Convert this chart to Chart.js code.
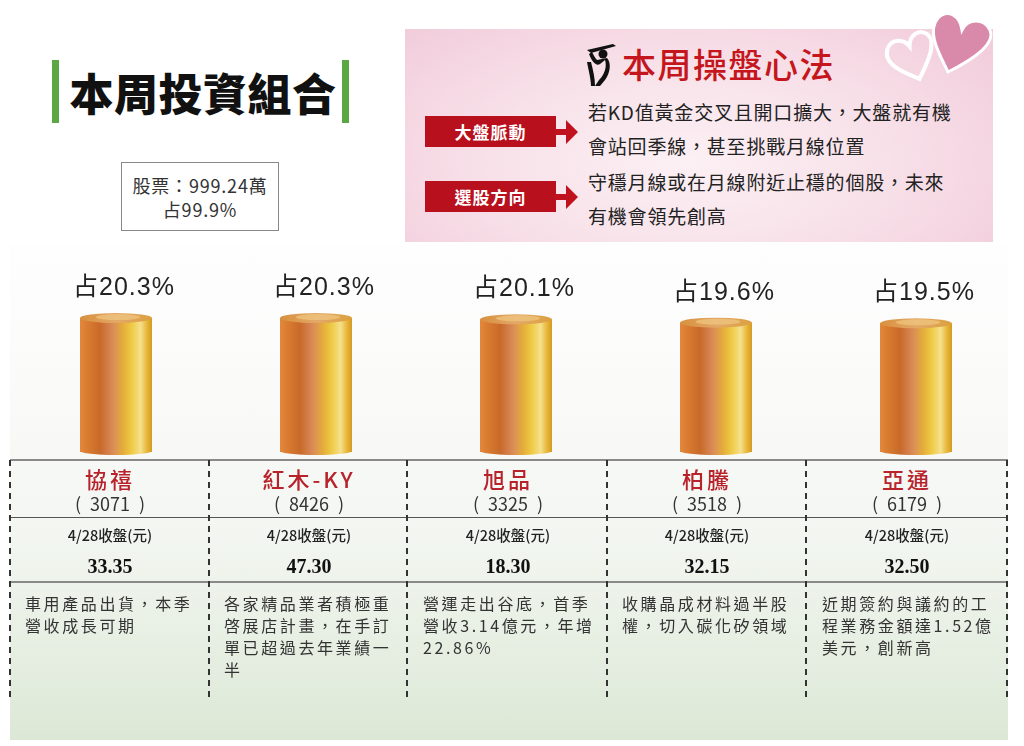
<!DOCTYPE html>
<html>
<head>
<meta charset="utf-8">
<script src="https://cdn.jsdelivr.net/npm/chart.js@4.4.1/dist/chart.umd.min.js"></script>
<style>
  html, body { margin: 0; padding: 0; background: #fff; }
  body { width: 1024px; height: 746px; position: relative; overflow: hidden;
         font-family: "Noto Sans CJK TC", "Noto Sans", sans-serif; color: #222; }
  .abs { position: absolute; }
  .greenbar { position: absolute; width: 7px; height: 63px; top: 60px; background: #5ba743; }
  #title { left: 58px; top: 63px; width: 290px; text-align: center; font-size: 44px; font-weight: 900;
           line-height: 58px; color: #111; letter-spacing: 0.5px; }
  #stockbox { left: 121px; top: 162px; width: 158px; height: 69px; border: 1px solid #888; background: #fff;
              text-align: center; font-size: 18px; line-height: 24px; color: #333; box-sizing: border-box; padding-top: 10px;
              letter-spacing: 0.8px; }
  #panel { left: 405px; top: 29px; width: 588px; height: 213px;
           background: radial-gradient(ellipse 70% 95% at 48% 62%, #fcf0f4 0%, #f8e2ea 45%, #f1cad9 100%); }
  #ptitle { left: 622px; top: 40px; font-size: 34px; line-height: 48px; color: #c4161c; font-weight: 500; letter-spacing: 1.5px; }
  .redtag { position: absolute; left: 425px; width: 131px; height: 31px; background: #b8101c; color: #fff;
            font-size: 17px; font-weight: 700; text-align: center; line-height: 31px; letter-spacing: 1px; }
  .ptext { position: absolute; left: 588px; font-size: 19px; line-height: 34px; color: #222; letter-spacing: 0.8px; }
  #lower { left: 10px; top: 244px; width: 998px; height: 496px;
           background: linear-gradient(to bottom, #fefefe 0%, #f8f9f7 40%, #f1f5ef 62%, #dce8d6 100%); }
  #chartbox { left: 16px; top: 254px; width: 1000px; height: 206px; }
  .hline { position: absolute; left: 10px; width: 998px; }
  .vdash { position: absolute; top: 460px; width: 2px; height: 238px;
           background: repeating-linear-gradient(to bottom, #333 0px, #333 6px, transparent 6px, transparent 11px); }
  .cell { position: absolute; width: 198px; text-align: center; }
  .name { font-size: 22px; line-height: 28px; color: #b8232b; font-weight: 500; letter-spacing: 3px; }
  .code { font-size: 18px; line-height: 24px; color: #333; }
  .lbl { font-size: 14.5px; line-height: 22px; color: #222; font-weight: 500; }
  .price { font-family: "Liberation Serif", "DejaVu Serif", serif; font-weight: 700; font-size: 20px; line-height: 26px; color: #111; }
  .note { position: absolute; width: 185px; font-size: 16px; line-height: 22px; color: #333; letter-spacing: 2.6px; text-align: left; }
</style>
</head>
<body>
<div class="greenbar" style="left:52px"></div>
<div class="greenbar" style="left:342px"></div>
<div id="title" class="abs">本周投資組合</div>
<div id="stockbox" class="abs">股票：999.24萬<br>占99.9%</div>

<div id="panel" class="abs"></div>
<svg class="abs" style="left:860px;top:0px" width="164" height="100" viewBox="0 0 164 100">
  <path d="M55 80 C40 70 22 58 30 44 C36 34 48 38 52 46 C54 36 64 30 72 38 C80 48 66 66 55 80 Z"
        fill="none" stroke="#ffffff" stroke-width="4" transform="rotate(-12 52 58)"/>
  <path d="M88 72 C80 55 66 32 78 18 C88 8 100 16 102 30 C108 18 124 18 130 30 C136 44 112 60 88 72 Z"
        fill="#d98aab" stroke="#ffffff" stroke-width="3"/>
</svg>
<svg class="abs" style="left:583px;top:40px" width="40" height="48" viewBox="0 0 40 48">
  <path d="M4 10 L30 4 L33 6 L8 13 Z" fill="#111"/>
  <circle cx="20" cy="14" r="4.5" fill="#111"/>
  <path d="M6 14 C10 24 14 26 17 24 L22 20 C24 26 22 34 16 40 L12 46 L17 46 L22 40 C28 32 28 22 24 18 L14 20 C12 18 10 14 9 12 Z" fill="#111"/>
  <path d="M4 22 C6 32 8 40 8 46 L12 46 C12 38 10 30 8 22 Z" fill="#111"/>
</svg>
<div id="ptitle" class="abs">本周操盤心法</div>

<div class="redtag" style="top:116px">大盤脈動</div>
<svg class="abs" style="left:555px;top:118px" width="26" height="28" viewBox="0 0 26 28">
  <path d="M0 11 L11 11 L11 2 L23 14 L11 26 L11 17 L0 17 Z" fill="#c0121e"/>
</svg>
<div class="redtag" style="top:181px">選股方向</div>
<svg class="abs" style="left:555px;top:183px" width="26" height="28" viewBox="0 0 26 28">
  <path d="M0 11 L11 11 L11 2 L23 14 L11 26 L11 17 L0 17 Z" fill="#c0121e"/>
</svg>
<div class="ptext" style="top:95px">若KD值黃金交叉且開口擴大，大盤就有機</div>
<div class="ptext" style="top:129px">會站回季線，甚至挑戰月線位置</div>
<div class="ptext" style="top:165px">守穩月線或在月線附近止穩的個股，未來</div>
<div class="ptext" style="top:199px">有機會領先創高</div>

<div id="lower" class="abs"></div>
<div id="chartbox" class="abs"><canvas id="barChart"></canvas></div>
<div id="table"></div>

<script>
// portfolio data
const stockNames = ['協禧', '紅木-KY', '旭品', '柏騰', '亞通'];
const stockCodes = ['3071', '8426', '3325', '3518', '6179'];
const weights = [20.3, 20.3, 20.1, 19.6, 19.5];
const closePrices = ['33.35', '47.30', '18.30', '32.15', '32.50'];
const closeLabel = '4/28收盤(元)';
const notes = [
    ['車用產品出貨，本季', '營收成長可期'],
    ['各家精品業者積極重', '啓展店計畫，在手訂', '單已超過去年業績一', '半'],
    ['營運走出谷底，首季', '營收3.14億元，年增', '22.86%'],
    ['收購晶成材料過半股', '權，切入碳化矽領域'],
    ['近期簽約與議約的工', '程業務金額達1.52億', '美元，創新高']
];

function bodyGradient(ctx, x, w) {
    const g = ctx.createLinearGradient(x - w / 2, 0, x + w / 2, 0);
    g.addColorStop(0, '#e2883c');
    g.addColorStop(0.12, '#d87a30');
    g.addColorStop(0.28, '#c9692a');
    g.addColorStop(0.45, '#d98a58');
    g.addColorStop(0.6, '#e4ae3a');
    g.addColorStop(0.72, '#efcb45');
    g.addColorStop(0.84, '#f5e08c');
    g.addColorStop(0.94, '#e6b232');
    g.addColorStop(1, '#d49a24');
    return g;
}

// cylinder caps + percent labels
const cylinderPlugin = {
    id: 'cylinder',
    afterDatasetsDraw(chart) {
        const ctx = chart.ctx;
        const meta = chart.getDatasetMeta(0);
        meta.data.forEach((bar, i) => {
            const x = bar.x, y = bar.y, base = bar.base, w = bar.width;
            const rx = w / 2;
            ctx.save();
            // rounded bottom
            ctx.beginPath();
            ctx.ellipse(x, base - 1, rx, 4, 0, 0, Math.PI);
            ctx.fillStyle = bodyGradient(ctx, x, w);
            ctx.fill();
            // top cap
            ctx.beginPath();
            ctx.ellipse(x, y, rx, 5, 0, 0, Math.PI * 2);
            const cg = ctx.createLinearGradient(x - rx, 0, x + rx, 0);
            cg.addColorStop(0, '#d8903e');
            cg.addColorStop(0.5, '#e3a867');
            cg.addColorStop(1, '#dca040');
            ctx.fillStyle = cg;
            ctx.fill();
            ctx.beginPath();
            ctx.ellipse(x + 2, y - 1, rx * 0.62, 3, 0, 0, Math.PI * 2);
            ctx.fillStyle = 'rgba(240,200,130,0.7)';
            ctx.fill();
            // label
            ctx.fillStyle = '#222';
            ctx.font = '25px "Liberation Sans", "Noto Sans CJK TC", sans-serif';
            ctx.letterSpacing = '1px';
            ctx.textAlign = 'center';
            ctx.textBaseline = 'middle';
            ctx.fillText('占' + weights[i].toFixed(1) + '%', x + 8, y - 30);
            ctx.restore();
        });
    }
};

document.addEventListener('DOMContentLoaded', function() {
    const ctxBar = document.getElementById('barChart');

    new Chart(ctxBar, {
        type: 'bar',
        data: {
            labels: stockNames,
            datasets: [{
                data: weights,
                backgroundColor: function(c) {
                    const chart = c.chart;
                    if (!chart.chartArea || c.dataIndex === undefined) return '#d98a40';
                    const x = chart.scales.x.getPixelForValue(c.dataIndex);
                    return bodyGradient(chart.ctx, x, 72);
                },
                borderWidth: 0,
                barPercentage: 0.36,
                categoryPercentage: 1.0
            }]
        },
        options: {
            responsive: true,
            maintainAspectRatio: false,
            animation: false,
            layout: { padding: { bottom: 8 } },
            plugins: { legend: { display: false }, tooltip: { enabled: false } },
            scales: {
                x: { display: false },
                y: { display: false, min: 0, max: 30 }
            }
        },
        plugins: [cylinderPlugin]
    });

    // table below the bars
    const table = document.getElementById('table');
    let html = '';
    html += '<div class="hline" style="top:459px;height:2px;background:#8a8a8a"></div>';
    html += '<div class="hline" style="top:517px;height:1px;background:#555"></div>';
    html += '<div class="hline" style="top:581px;height:2px;background:#8a8a8a"></div>';
    [10, 209, 407, 607, 806, 1007].forEach(x => {
        html += '<div class="vdash" style="left:' + (x - 1) + 'px"></div>';
    });
    const colLeft = [11, 210, 409, 608, 808];
    stockNames.forEach((name, i) => {
        const l = colLeft[i];
        html += '<div class="cell name" style="left:' + l + 'px;top:464px">' + name + '</div>';
        html += '<div class="cell code" style="left:' + l + 'px;top:491px">(\u2002' + stockCodes[i] + '\u2002)</div>';
        html += '<div class="cell lbl" style="left:' + l + 'px;top:524px">' + closeLabel + '</div>';
        html += '<div class="cell price" style="left:' + l + 'px;top:553px">' + closePrices[i] + '</div>';
        html += '<div class="note" style="left:' + (l + 14) + 'px;top:592px">' + notes[i].join('<br>') + '</div>';
    });
    table.innerHTML = html;
});
</script>
</body>
</html>
